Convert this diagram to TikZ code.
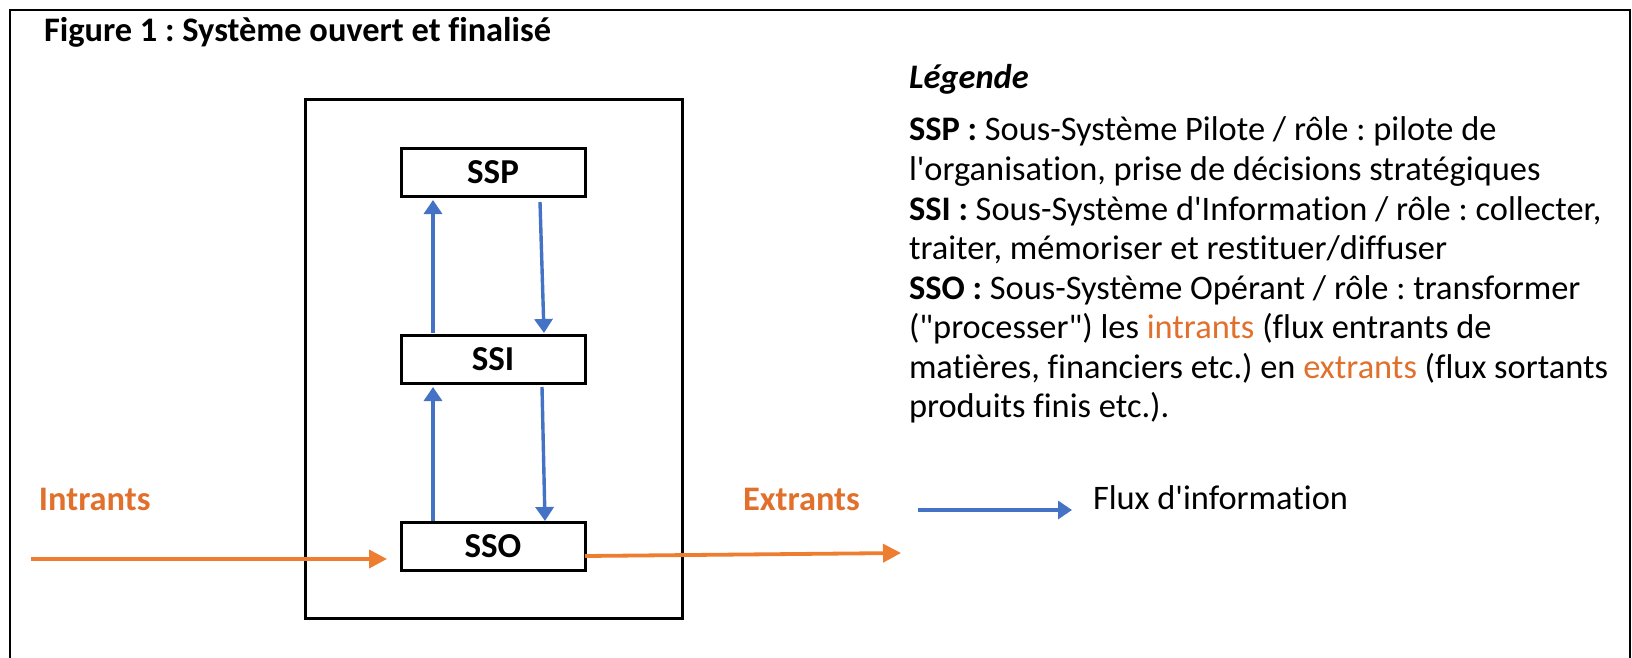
\documentclass[tikz,border=0pt]{standalone}
\usepackage{fontspec}
\setmainfont{Carlito}[Ligatures={TeXOff,NoCommon}]
\usetikzlibrary{arrows.meta,calc}
\definecolor{blu}{HTML}{4472C4}
\definecolor{org}{HTML}{ED7D31}
\definecolor{orgtxt}{HTML}{E0702B}
\frenchspacing
\begin{document}
\begin{tikzpicture}[x=0.5pt,y=-0.5pt,
  every node/.style={inner sep=0pt,outer sep=0pt,font=\fontsize{17.2}{20}\selectfont},
  txt/.style={anchor=base west},
  subsys/.style={draw,line width=1.5pt,minimum width=92pt,minimum height=24pt,font=\fontsize{17.5}{20}\selectfont\bfseries},
  bluearrow/.style={draw=blu,line width=1.7pt,-{Triangle[length=7pt,width=9pt]}},
  orgarrow/.style={draw=org,line width=1.9pt,-{Triangle[length=9pt,width=9pt]}},
]
\useasboundingbox (0,0) rectangle (1632,658);
% outer frame (open at bottom)
\draw[line width=0.6pt] (10,658) -- (10,10) -- (1630,10) -- (1630,658);

\node[txt,font=\fontsize{17.2}{20}\selectfont\bfseries] (title) at (44,42) {Figure 1 : Système ouvert et finalisé};

% system box
\node[draw,line width=1.5pt,minimum width=188.5pt,minimum height=259pt] (sys) at (493.5,359) {};
\node[subsys] (SSP) at (493,172) {SSP};
\node[subsys] (SSI) at (493,359) {SSI};
\node[subsys] (SSO) at (493,546) {SSO};

% information flows
\draw[bluearrow] ($(SSI.north west)+(32,-2)$) -- ($(SSP.south west)+(32,4)$);
\draw[bluearrow] ($(SSP.south west)+(139,6)$) -- ($(SSI.north west)+(143,-2)$);
\draw[bluearrow] ($(SSO.north west)+(32,-1)$) -- ($(SSI.south west)+(32,4)$);
\draw[bluearrow] ($(SSI.south west)+(141,4)$) -- ($(SSO.north west)+(144,-1)$);

% material flows
\coordinate (inStart) at (31,559);
\coordinate (outEnd) at (901,553);
\draw[orgarrow,shorten >=7pt] (inStart) -- (inStart -| SSO.west);
\draw[orgarrow] ($(SSO.east)+(0,10)$) -- (outEnd);

\node[txt,text=orgtxt,font=\fontsize{17.2}{20}\selectfont\bfseries] (intr) at (39,510) {Intrants};
\node[txt,text=orgtxt,font=\fontsize{17.2}{20}\selectfont\bfseries] (extr) at (743,510) {Extrants};

% legend
\node[txt,font=\fontsize{17.2}{20}\selectfont\bfseries\itshape] (leg) at (909,89) {Légende};
\node[txt] (l1) at (909,140.5) {\textbf{SSP :} Sous-Système Pilote / rôle : pilote de};
\node[txt] (l2) at (909,180.5) {l'organisation, prise de décisions stratégiques};
\node[txt] (l3) at (909,220) {\textbf{SSI :} Sous-Système d'Information / rôle : collecter,};
\node[txt] (l4) at (909,259.5) {traiter, mémoriser et restituer/diffuser};
\node[txt] (l5) at (909,299) {\textbf{SSO :} Sous-Système Opérant / rôle : transformer};
\node[txt] (l6) at (909,338.5) {("processer") les \textcolor{orgtxt}{intrants} (flux entrants de};
\node[txt] (l7) at (909,378) {matières, financiers etc.) en \textcolor{orgtxt}{extrants} (flux sortants};
\node[txt] (l8) at (909,417.5) {produits finis etc.).};

\coordinate (fluxStart) at (918,510);
\coordinate (fluxEnd) at (1072,510);
\draw[bluearrow] (fluxStart) -- (fluxEnd);
\node[txt] (flux) at (1093,509) {Flux d'information};
\end{tikzpicture}
\end{document}
